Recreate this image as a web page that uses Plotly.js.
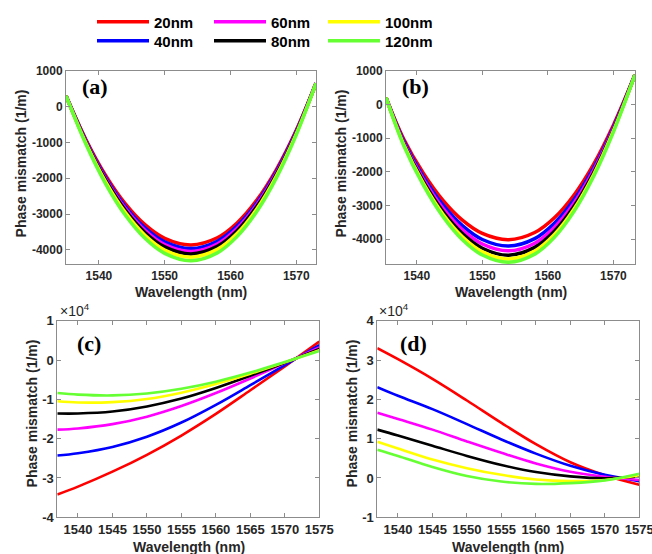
<!DOCTYPE html>
<html>
<head>
<meta charset="utf-8">
<script src="https://cdn.plot.ly/plotly-3.0.1.min.js"></script>
<style>html,body{margin:0;padding:0;background:#fff;}#chart{width:652px;height:554px;}</style>
</head>
<body>
<div id="chart"></div>
<script>
// ---- data ----
const sizeLabels = ['20nm', '40nm', '60nm', '80nm', '100nm', '120nm'];
const seriesColors = ['#ff0000', '#0000ff', '#ff00ff', '#000000', '#ffff00', '#66ff33'];

// panel (a)
const wlA = [1535, 1538, 1541, 1544, 1547, 1550, 1554, 1558, 1561, 1564, 1567, 1570, 1573];
const a20  = [300, -911, -1913, -2708, -3295, -3676, -3860, -3660, -3248, -2611, -1749, -663, 650];
const a40  = [300, -939, -1966, -2780, -3382, -3771, -3960, -3756, -3334, -2683, -1802, -691, 650];
const a60  = [300, -963, -2009, -2838, -3451, -3848, -4040, -3832, -3403, -2741, -1845, -715, 650];
const a80  = [300, -982, -2045, -2888, -3511, -3914, -4110, -3899, -3464, -2791, -1881, -733, 650];
const a100 = [300, -1008, -2093, -2953, -3589, -4000, -4200, -3985, -3542, -2857, -1930, -762, 650];
const a120 = [300, -1039, -2147, -3026, -3676, -4096, -4300, -4081, -3628, -2929, -1983, -790, 650];

// panel (b)
const wlB = [1535.3, 1538, 1541, 1544, 1547, 1550, 1554, 1558, 1561, 1564, 1567, 1570, 1573.3];
const b20  = [200, -1027, -2044, -2851, -3447, -3833, -4020, -3807, -3369, -2691, -1774, -618, 880];
const b40  = [200, -1082, -2145, -2988, -3611, -4014, -4210, -3989, -3533, -2829, -1876, -675, 880];
const b60  = [200, -1124, -2221, -3090, -3733, -4148, -4350, -4123, -3655, -2931, -1952, -717, 880];
const b80  = [200, -1162, -2290, -3184, -3845, -4273, -4480, -4247, -3768, -3026, -2023, -758, 880];
const b100 = [200, -1193, -2347, -3263, -3940, -4378, -4590, -4353, -3863, -3106, -2082, -791, 880];
const b120 = [200, -1221, -2400, -3335, -4026, -4473, -4690, -4448, -3950, -3179, -2136, -822, 880];

// panels (c) and (d)
const wlCD = [1537, 1540, 1545, 1550, 1555, 1560, 1565, 1570, 1575];
const c20  = [-34200, -32200, -28400, -24100, -19200, -13700, -7700, -1600, 4700];
const c40  = [-24300, -23700, -22100, -19500, -15900, -11400, -6400, -1300, 3800];
const c60  = [-17700, -17400, -16300, -14400, -11700, -8400, -4700, -800, 3200];
const c80  = [-13600, -13600, -13100, -11800, -9800, -7100, -4000, -700, 2800];
const c100 = [-10500, -10800, -10700, -9900, -8300, -6100, -3500, -600, 2500];
const c120 = [-8400, -8800, -9000, -8500, -7300, -5500, -3200, -500, 2300];

const d20  = [33000, 30200, 25200, 19700, 14000, 8600, 4000, 700, -1700];
const d40  = [23100, 20900, 17500, 13700, 9800, 6200, 3100, 800, -800];
const d60  = [16600, 15000, 12300, 9300, 6400, 3700, 1600, 300, -500];
const d80  = [12300, 10800, 8200, 5600, 3300, 1500, 400, -100, 400];
const d100 = [9200, 7500, 4700, 2500, 800, -400, -800, -500, 700];
const d120 = [7200, 5600, 2800, 500, -900, -1500, -1300, -600, 1100];

// tick labels
const tickAB_x = [1540, 1550, 1560, 1570];
const tickCD_x = [1540, 1545, 1550, 1555, 1560, 1565, 1570, 1575];
const tickA_y = [-4000, -3000, -2000, -1000, 0, 1000];
const tickA_yText = ['-4000', '-3000', '-2000', '-1000', '0', '1000'];
const tickC_y = [-40000, -30000, -20000, -10000, 0, 10000];
const tickC_yText = ['-4', '-3', '-2', '-1', '0', '1'];
const tickD_y = [-10000, 0, 10000, 20000, 30000, 40000];
const tickD_yText = ['-1', '0', '1', '2', '3', '4'];

// ---- build ----
const panels = [
  {x: wlA, ys: [a20, a40, a60, a80, a100, a120], xa: 'x', ya: 'y', w: 3.5, legend: true},
  {x: wlB, ys: [b20, b40, b60, b80, b100, b120], xa: 'x2', ya: 'y2', w: 3.5},
  {x: wlCD, ys: [c20, c40, c60, c80, c100, c120], xa: 'x3', ya: 'y3', w: 2.6},
  {x: wlCD, ys: [d20, d40, d60, d80, d100, d120], xa: 'x4', ya: 'y4', w: 2.6}
];
const legendNames = ['legend', 'legend2', 'legend3', 'legend4', 'legend5', 'legend6'];
const traces = [];
panels.forEach(p => {
  p.ys.forEach((y, i) => {
    traces.push({
      type: 'scatter', mode: 'lines', x: p.x, y: y,
      xaxis: p.xa, yaxis: p.ya, name: sizeLabels[i],
      line: {color: seriesColors[i], width: p.w, shape: 'spline', smoothing: 1},
      showlegend: !!p.legend, legend: legendNames[i], hoverinfo: 'skip'
    });
  });
});

const axCol = '#8c8c8c';
const tickCol = '#262626';
function axis(extra, fs) {
  return Object.assign({
    showline: true, mirror: 'ticks', linecolor: axCol, linewidth: 1,
    ticks: 'inside', ticklen: 4, tickcolor: axCol, tickwidth: 1,
    showgrid: false, zeroline: false, fixedrange: true,
    ticklabeloverflow: 'allow',
    tickfont: {family: 'Liberation Sans, Arial, sans-serif', size: fs, color: tickCol, weight: 'bold'},
    tickmode: 'array'
  }, extra);
}

const W = 652, H = 554;
const px = v => v / W, py = v => 1 - v / H;

const layout = {
  width: W, height: H,
  margin: {l: 0, r: 0, t: 0, b: 0},
  paper_bgcolor: '#fff', plot_bgcolor: '#fff',
  xaxis:  axis({domain: [px(66), px(316)], anchor: 'y', range: [1535, 1573], tickvals: tickAB_x}, 12),
  yaxis:  axis({domain: [py(264.3), py(70.7)], anchor: 'x', range: [-4400, 1000], tickvals: tickA_y, ticktext: tickA_yText}, 12),
  xaxis2: axis({domain: [px(386), px(635)], anchor: 'y2', range: [1535.3, 1573.3], tickvals: tickAB_x}, 12),
  yaxis2: axis({domain: [py(264.3), py(70.7)], anchor: 'x2', range: [-4750, 1000], tickvals: tickA_y, ticktext: tickA_yText}, 12),
  xaxis3: axis({domain: [px(57.3), px(319.3)], anchor: 'y3', range: [1537, 1575], tickvals: tickCD_x}, 13),
  yaxis3: axis({domain: [py(517.3), py(320.7)], anchor: 'x3', range: [-40000, 10000], tickvals: tickC_y, ticktext: tickC_yText}, 13),
  xaxis4: axis({domain: [px(377.3), px(639.3)], anchor: 'y4', range: [1537, 1575], tickvals: tickCD_x}, 13),
  yaxis4: axis({domain: [py(517.3), py(320.7)], anchor: 'x4', range: [-10000, 40000], tickvals: tickD_y, ticktext: tickD_yText}, 13),
  annotations: [],
  showlegend: true
};

// legends: 3 columns x 2 rows
const legCols = [92, 92, 209, 209, 323, 323];
const legRows = [22, 41, 22, 41, 22, 41];
legendNames.forEach((ln, i) => {
  layout[ln] = {
    x: px(legCols[i]), y: py(legRows[i]), xanchor: 'left', yanchor: 'middle',
    orientation: 'v', bgcolor: 'rgba(0,0,0,0)', borderwidth: 0, itemwidth: 52,
    font: {family: 'Liberation Sans, Arial, sans-serif', size: 15, color: '#000', weight: 'bold'},
    itemclick: false, itemdoubleclick: false
  };
});

const titleFont = {family: 'Liberation Sans, Arial, sans-serif', size: 14, color: tickCol, weight: 'bold'};
function ann(text, x, y, extra) {
  layout.annotations.push(Object.assign({
    text: text, x: px(x), y: py(y), xref: 'paper', yref: 'paper',
    showarrow: false, xanchor: 'center', yanchor: 'middle', font: titleFont
  }, extra || {}));
}
// x titles
ann('Wavelength (nm)', 191, 292.3);
ann('Wavelength (nm)', 510.8, 292.3);
ann('Wavelength (nm)', 188.8, 546.7);
ann('Wavelength (nm)', 508, 546.7);
// y titles
ann('Phase mismatch (1/m)', 20.7, 163.7, {textangle: -90});
ann('Phase mismatch (1/m)', 340.7, 163.7, {textangle: -90});
ann('Phase mismatch (1/m)', 31.7, 413.7, {textangle: -90});
ann('Phase mismatch (1/m)', 351.7, 413.7, {textangle: -90});
// panel labels
const labFont = {family: 'Liberation Serif, Times New Roman, serif', size: 22, color: '#000', weight: 'bold'};
ann('(a)', 95, 86.7, {font: labFont});
ann('(b)', 415.8, 86.7, {font: labFont});
ann('(c)', 88.8, 343.3, {font: labFont});
ann('(d)', 413.3, 343.3, {font: labFont});
// exponent labels
const expFont = {family: 'Liberation Sans, Arial, sans-serif', size: 14, color: tickCol};
ann('×10<sup>4</sup>', 58, 321, {font: expFont, xanchor: 'left', yanchor: 'bottom'});
ann('×10<sup>4</sup>', 377, 321, {font: expFont, xanchor: 'left', yanchor: 'bottom'});

Plotly.newPlot('chart', traces, layout, {staticPlot: true, displayModeBar: false});
</script>
</body>
</html>
